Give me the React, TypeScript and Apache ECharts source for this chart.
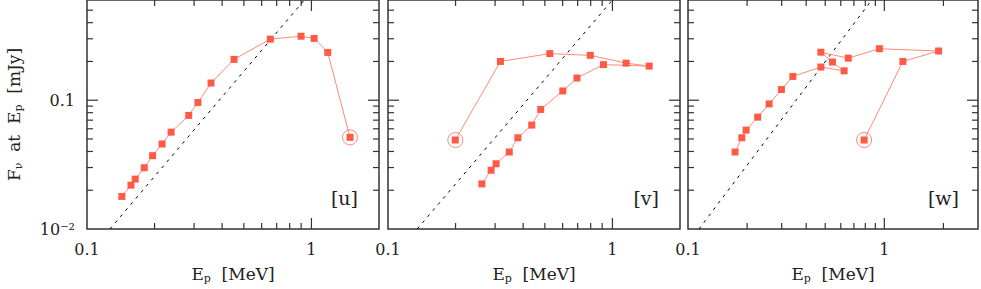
import React, { useEffect, useRef } from "react";
import * as echarts from "echarts";

const panelLabels = ["[u]", "[v]", "[w]"];
const xMaxes = [2, 2, 3];
const yMin = 0.01;
const yMax = 0.6;

const uE = [0.143, 0.157, 0.164, 0.18, 0.196, 0.216, 0.237, 0.284, 0.312, 0.357, 0.452, 0.656, 0.899, 1.028, 1.182, 1.486];
const uF = [0.0179, 0.0219, 0.0244, 0.0299, 0.0371, 0.0457, 0.0565, 0.0762, 0.096, 0.136, 0.2075, 0.298, 0.314, 0.302, 0.235, 0.0515];

const vE = [0.262, 0.288, 0.303, 0.347, 0.379, 0.437, 0.479, 0.601, 0.695, 0.912, 1.458, 1.151, 0.797, 0.526, 0.317, 0.1995];
const vF = [0.0224, 0.0286, 0.0321, 0.0396, 0.0511, 0.0641, 0.0848, 0.118, 0.1487, 0.189, 0.184, 0.194, 0.223, 0.23, 0.2, 0.0491];

const wE = [0.1737, 0.188, 0.1977, 0.2264, 0.259, 0.299, 0.342, 0.475, 0.624, 0.544, 0.475, 0.655, 0.944, 1.89, 1.243, 0.789];
const wF = [0.0396, 0.0511, 0.0586, 0.0739, 0.0936, 0.121, 0.153, 0.181, 0.169, 0.198, 0.236, 0.212, 0.251, 0.241, 0.2, 0.0491];

// reference slope lines (two end points each)
const dashE = [
  [0.1265, 0.93],
  [0.1349, 1.0],
  [0.1137, 0.863],
];
const dashF = [0.01, 0.6];

const xTickValues = [0.1, 1];
const xTickLabels = ["0.1", "1"];
const yTickValues = [0.01, 0.1];
const yTickLabels = ["10⁻²", "0.1"];
const xMinorTicks = [0.2, 0.3, 0.4, 0.5, 0.6, 0.7, 0.8, 0.9, 2, 3];
const yMinorTicks = [0.02, 0.03, 0.04, 0.05, 0.06, 0.07, 0.08, 0.09, 0.2, 0.3, 0.4, 0.5];

const FONT = "DejaVu Serif";
const AXIS_COLOR = "#333";
const MARK_COLOR = "#ff5a46";
const LINE_COLOR = "#ff8a7a";

const gridLefts = [87, 388, 688];
const gridWidth = 292;
const gridTop = 0;
const gridHeight = 229;

function labelFor(values: number[], labels: string[]) {
  return (v: number) => {
    const l = Math.log10(v);
    for (let i = 0; i < values.length; i++) {
      if (Math.abs(l - Math.log10(values[i])) < 1e-6) return labels[i];
    }
    return "";
  };
}

export default function App() {
  const ref = useRef<HTMLDivElement>(null);
  useEffect(() => {
    if (!ref.current) return;
    const chart = echarts.init(ref.current, undefined, { renderer: "svg" });
    const panels = [
      { e: uE, f: uF },
      { e: vE, f: vF },
      { e: wE, f: wF },
    ];
    const grids: any[] = [];
    const xAxes: any[] = [];
    const yAxes: any[] = [];
    const series: any[] = [];
    const graphics: any[] = [];

    panels.forEach((p, i) => {
      const xMax = xMaxes[i];
      grids.push({
        left: gridLefts[i],
        top: gridTop,
        width: gridWidth,
        height: gridHeight,
        show: true,
        borderColor: AXIS_COLOR,
        borderWidth: 1.5,
        backgroundColor: "transparent",
      });
      xAxes.push({
        type: "log",
        logBase: 10,
        gridIndex: i,
        min: 0.1,
        max: xMax,
        axisLine: { show: false },
        axisTick: { show: false },
        splitLine: { show: false },
        axisLabel: {
          margin: 12,
          color: "#222",
          fontFamily: FONT,
          fontSize: 16,
          formatter: labelFor(xTickValues, xTickLabels),
        },
        name: "E{sub|p}  [MeV]",
        nameLocation: "middle",
        nameGap: 34,
        nameTextStyle: {
          color: "#222",
          fontFamily: FONT,
          fontSize: 17,
          rich: {
            sub: { fontFamily: FONT, fontSize: 11, color: "#222", padding: [10, 0, 0, 0] },
          },
        },
      });
      yAxes.push({
        type: "log",
        logBase: 10,
        gridIndex: i,
        min: yMin,
        max: yMax,
        axisLine: { show: false },
        axisTick: { show: false },
        splitLine: { show: false },
        axisLabel: {
          show: i === 0,
          margin: 12,
          color: "#222",
          fontFamily: FONT,
          fontSize: 16,
          formatter: labelFor(yTickValues, yTickLabels),
        },
        name: i === 0 ? "F{sub|ν}  at  E{sub|p}  [mJy]" : "",
        nameLocation: "middle",
        nameGap: 63,
        nameRotate: 90,
        nameTextStyle: {
          color: "#222",
          fontFamily: FONT,
          fontSize: 17,
          rich: {
            sub: { fontFamily: FONT, fontSize: 11, color: "#222", padding: [10, 0, 0, 0] },
          },
        },
      });

      const tickData: number[][] = [];
      xMinorTicks.filter((v) => v < xMax - 1e-9).forEach((v) => tickData.push([v, 0.05, 0, 0]));
      xTickValues.filter((v) => v > 0.1 + 1e-9 && v < xMax).forEach((v) => tickData.push([v, 0.05, 0, 1]));
      yMinorTicks.forEach((v) => tickData.push([0.5, v, 1, 0]));
      yTickValues.filter((v) => v > yMin + 1e-9).forEach((v) => tickData.push([0.5, v, 1, 1]));

      series.push({
        type: "custom",
        xAxisIndex: i,
        yAxisIndex: i,
        silent: true,
        z: 1,
        data: tickData,
        renderItem: (params: any, api: any) => {
          const cs = params.coordSys;
          const kind = api.value(2);
          const len = api.value(3) ? 11 : 6;
          const style = { stroke: AXIS_COLOR, lineWidth: 1.2 };
          if (kind === 0) {
            const px = api.coord([api.value(0), yMin])[0];
            return {
              type: "group",
              children: [
                { type: "line", shape: { x1: px, y1: cs.y + cs.height, x2: px, y2: cs.y + cs.height - len }, style },
                { type: "line", shape: { x1: px, y1: cs.y, x2: px, y2: cs.y + len }, style },
              ],
            };
          }
          const py = api.coord([0.1, api.value(1)])[1];
          return {
            type: "group",
            children: [
              { type: "line", shape: { x1: cs.x, y1: py, x2: cs.x + len, y2: py }, style },
              { type: "line", shape: { x1: cs.x + cs.width, y1: py, x2: cs.x + cs.width - len, y2: py }, style },
            ],
          };
        },
      });

      series.push({
        type: "line",
        xAxisIndex: i,
        yAxisIndex: i,
        silent: true,
        symbol: "none",
        z: 2,
        data: [
          [dashE[i][0], dashF[0]],
          [dashE[i][1], dashF[1]],
        ],
        lineStyle: { color: "#000", width: 1, type: [3, 5] },
      });

      series.push({
        type: "line",
        xAxisIndex: i,
        yAxisIndex: i,
        silent: true,
        z: 3,
        symbol: "rect",
        symbolSize: 7,
        data: p.e.map((e, k) => [e, p.f[k]]),
        lineStyle: { color: LINE_COLOR, width: 1 },
        itemStyle: { color: MARK_COLOR },
      });

      const last = p.e.length - 1;
      series.push({
        type: "scatter",
        xAxisIndex: i,
        yAxisIndex: i,
        silent: true,
        z: 4,
        symbol: "circle",
        symbolSize: 15,
        data: [[p.e[last], p.f[last]]],
        itemStyle: { color: "transparent", borderColor: "#ff6b58", borderWidth: 1 },
      });

      graphics.push({
        type: "text",
        right: 981 - (gridLefts[i] + gridWidth) + 21,
        top: 188,
        style: {
          text: panelLabels[i],
          fontFamily: FONT,
          fontSize: 19,
          fill: "#222",
        },
      });
    });

    chart.setOption({
      animation: false,
      grid: grids,
      xAxis: xAxes,
      yAxis: yAxes,
      series,
      graphic: graphics,
    });
    return () => chart.dispose();
  }, []);
  return (
    <div
      ref={ref}
      style={{ position: "fixed", left: 0, top: 0, width: 981, height: 289, background: "#fff" }}
    />
  );
}
